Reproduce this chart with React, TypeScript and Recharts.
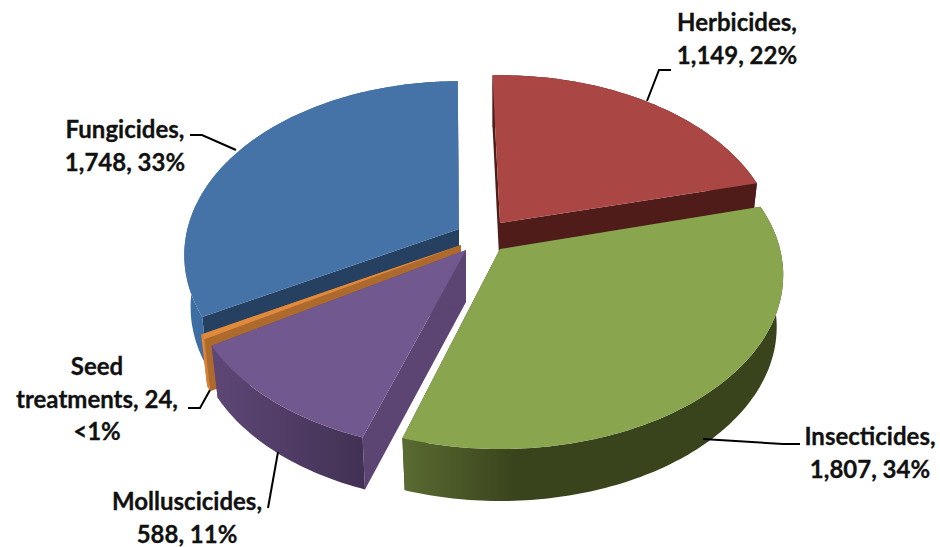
import React from 'react';
import { PieChart, Pie } from 'recharts';

const names = ['Herbicides', 'Fungicides', 'Seed treatments', 'Molluscicides', 'Insecticides'];
const values = [1149, 1748, 24, 588, 1807];

const CHART_W = 940;
const CHART_H = 547;

// perspective of the tilted disc
const RADIUS = 280;
const SQUASH = 0.607;
const PERSPECTIVE = 0.15;
const DEPTH = 52;
const BOTTOM_SHRINK = 0.977;
const RAD = Math.PI / 180;

const SLICE_STYLE: Record<string, any> = {
  Herbicides: {
    top: '#aa4643', side: ['#4f1c1a', '#4f1c1a'], cut: '#4f1c1a', tip: [500, 223], turn: 1, sx: 0.98,
    text: [737, 31], leader: [[671, 70], [659, 70], [647, 101]],
  },
  Fungicides: {
    top: '#4573a7', side: ['#3e6fa4', '#33608f'], cut: '#254061', tip: [459, 229], turn: 2.5, sx: 0.97,
    text: [125, 138], leader: [[190, 135], [202, 135], [236, 150]],
  },
  'Seed treatments': {
    top: '#e08a3e', side: ['#e08a3e', '#cf7c34'], cut: '#ad6a2c', tip: [461, 245], turn: 2, sx: 0.985,
    text: [97, 375], leader: [[188, 408], [200, 408], [210, 390]],
  },
  Molluscicides: {
    top: '#71588f', side: ['#5e4776', '#423154'], cut: '#5c4573', tip: [466, 250], turn: 1.5, sx: 0.98,
    text: [187, 510], leader: [[268, 508], [278, 452]],
  },
  Insecticides: {
    top: '#89a54e', side: ['#5a6b32', '#39431c'], cut: '#39431c', tip: [500, 249], turn: 0, sx: 1,
    text: [870, 445], leader: [[800, 444], [783, 444], [703, 439]],
  },
};

// clockwise angle from 12 o'clock -> offset from the slice tip on screen
const project = (clock: number, sx: number) => {
  const X = Math.sin(clock * RAD);
  const Y = Math.cos(clock * RAD);
  const w = 1 + PERSPECTIVE * Y;
  return [(RADIUS * sx * X) / w, (-RADIUS * SQUASH * Y) / w];
};

const toPath = (pts: number[][]) =>
  pts.map((p, i) => `${i ? 'L' : 'M'}${p[0].toFixed(1)},${p[1].toFixed(1)}`).join('') + 'Z';

const Slice3D = (props: any) => {
  const { startAngle, endAngle, name, index } = props;
  const st = SLICE_STYLE[name];
  const [tx, ty] = st.tip;

  const from = 90 - Math.max(startAngle, endAngle) + st.turn;
  const to = 90 - Math.min(startAngle, endAngle) + st.turn;
  const steps = Math.max(2, Math.ceil(to - from));
  const arc: number[][] = [];
  for (let i = 0; i <= steps; i++) arc.push(project(from + ((to - from) * i) / steps, st.sx));

  const upper = (p: number[]) => [tx + p[0], ty + p[1]];
  const lower = (p: number[]) => [tx + p[0] * BOTTOM_SHRINK, ty + p[1] + DEPTH];
  const first = arc[0];
  const last = arc[arc.length - 1];
  const gid = `side-${index}`;

  return (
    <g>
      <defs>
        <linearGradient id={gid} x1="0" y1="0" x2="1" y2="0">
          <stop offset="0" stopColor={st.side[0]} />
          <stop offset={name === 'Insecticides' ? '0.3' : '1'} stopColor={st.side[1]} />
        </linearGradient>
      </defs>
      <path d={toPath([[tx, ty], upper(first), lower(first), [tx, ty + DEPTH]])} fill={st.cut} />
      <path d={toPath([[tx, ty], upper(last), lower(last), [tx, ty + DEPTH]])} fill={st.cut} />
      <path d={toPath([...arc.map(upper), ...[...arc].reverse().map(lower)])} fill={`url(#${gid})`} />
      <path d={toPath([[tx, ty], ...arc.map(upper)])} fill={st.top} />
    </g>
  );
};

const labelLines = (name: string, value: number, percent: number) => {
  const num = value.toLocaleString('en-US');
  const pct = percent * 100 < 1 ? '<1%' : `${Math.round(percent * 100)}%`;
  if (name === 'Seed treatments') return ['Seed', `treatments, ${num},`, pct];
  return [`${name},`, `${num}, ${pct}`];
};

const SliceLabel = (props: any) => {
  const { name, value, percent } = props;
  const st = SLICE_STYLE[name];
  return (
    <g>
      <polyline
        points={st.leader.map((p: number[]) => p.join(',')).join(' ')}
        fill="none"
        stroke="#000"
        strokeWidth={2}
      />
      <text
        x={st.text[0]}
        y={st.text[1]}
        textAnchor="middle"
        fontFamily="Lato, sans-serif"
        fontWeight={700}
        fontSize={24}
        fill="#111"
        stroke="#111"
        strokeWidth={0.3}
      >
        {labelLines(name, value, percent).map((line, i) => (
          <tspan key={i} x={st.text[0]} dy={i ? 32.5 : 0}>
            {line}
          </tspan>
        ))}
      </text>
    </g>
  );
};

const tableData = names.map((name, i) => ({ name, value: values[i], fill: SLICE_STYLE[name].top }));

export default function App() {
  return (
    <div style={{ position: 'absolute', left: 0, top: 0, width: CHART_W, height: CHART_H }}>
      <PieChart width={CHART_W} height={CHART_H} margin={{ top: 0, right: 0, bottom: 0, left: 0 }}>
        {/* counter-clockwise from Herbicides: that order paints the slices back to front */}
        <Pie
          data={tableData}
          dataKey="value"
          nameKey="name"
          cx={480}
          cy={240}
          outerRadius={RADIUS}
          startAngle={15}
          endAngle={375}
          stroke="none"
          shape={Slice3D}
          label={SliceLabel}
          labelLine={false}
          isAnimationActive={false}
        />
      </PieChart>
    </div>
  );
}
